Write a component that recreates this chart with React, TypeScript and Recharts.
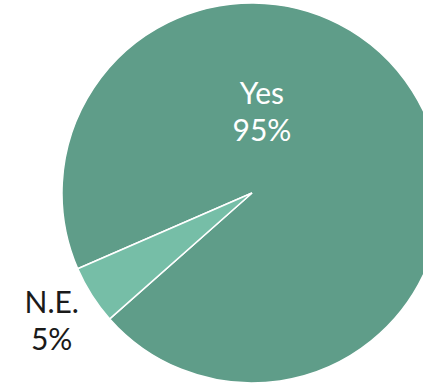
import React from 'react';
import { PieChart, Pie, Cell } from 'recharts';

const categories = ['Yes', 'N.E.'];
const values = [95, 5];
const percentLabels = ['95%', '5%'];
const colors = ['#5f9d89', '#76bea7'];

const data = categories.map((name, i) => ({ name, value: values[i], pct: percentLabels[i] }));

const RAD = Math.PI / 180;

const renderLabel = (props: any) => {
  const { cx, cy, outerRadius, midAngle, index } = props;
  let x: number, y: number, fill: string;
  if (index === 0) {
    const a = 83;
    const r = outerRadius * 0.43;
    x = cx + r * Math.cos(a * RAD);
    y = cy - r * Math.sin(a * RAD);
    fill = '#ffffff';
  } else {
    const r = outerRadius * 1.25;
    x = cx + r * Math.cos(midAngle * RAD);
    y = cy - r * Math.sin(midAngle * RAD);
    fill = '#1a1a1a';
  }
  return (
    <text
      x={x}
      y={y}
      textAnchor="middle"
      fill={fill}
      fontFamily="Lato, 'Open Sans', sans-serif"
      fontSize={30}
      fontWeight={400}
    >
      <tspan x={x} dy={-8}>{data[index].name}</tspan>
      <tspan x={x} dy={37}>{data[index].pct}</tspan>
    </text>
  );
};

export default function App() {
  return (
    <div style={{ position: 'absolute', left: 0, top: 0, width: 423, height: 383, overflow: 'hidden', background: '#fff' }}>
      <PieChart width={423} height={383} margin={{ top: 0, right: 0, bottom: 0, left: 0 }}>
        <Pie
          data={data}
          dataKey="value"
          nameKey="name"
          cx={252}
          cy={193}
          outerRadius={190}
          innerRadius={0}
          startAngle={-138.5}
          endAngle={221.5}
          stroke="#ffffff"
          strokeWidth={1.5}
          label={renderLabel}
          labelLine={false}
          isAnimationActive={false}
        >
          {data.map((d, i) => (
            <Cell key={d.name} fill={colors[i]} />
          ))}
        </Pie>
      </PieChart>
    </div>
  );
}
